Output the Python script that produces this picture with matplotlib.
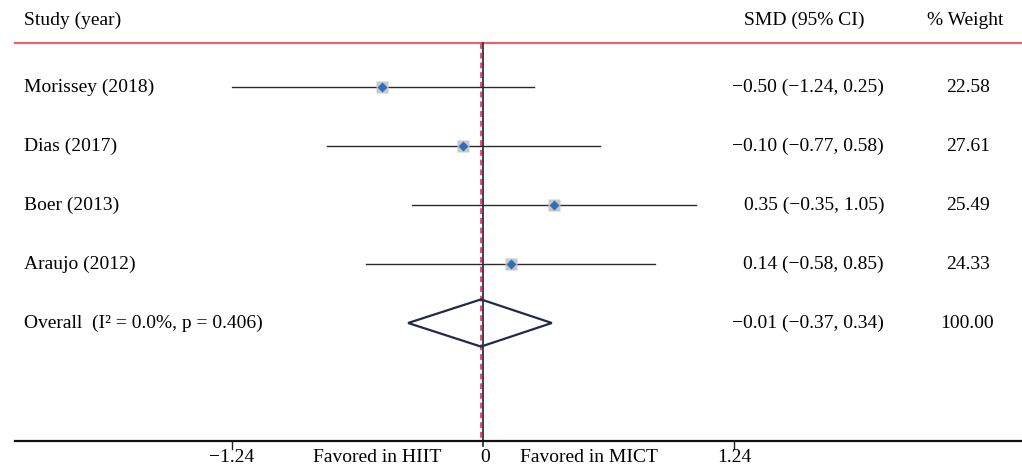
import matplotlib
matplotlib.use("Agg")
import matplotlib.pyplot as plt
from matplotlib.patches import Polygon

studies = ["Morissey (2018)", "Dias (2017)", "Boer (2013)", "Araujo (2012)"]
smd = [-0.50, -0.10, 0.35, 0.14]
lo = [-1.24, -0.77, -0.35, -0.58]
hi = [0.25, 0.58, 1.05, 0.85]
weights = ["22.58", "27.61", "25.49", "24.33"]
overall_label = "Overall  (I\u00b2 = 0.0%, p = 0.406)"
overall = [-0.01, -0.37, 0.34]
overall_weight = "100.00"
tick_vals = [-1.24, 0, 1.24]
tick_labels = ["\u22121.24", "0", "1.24"]
side_labels = ["Favored in HIIT", "Favored in MICT"]

def fmt(v):
    s = f"{v:.2f}"
    return s.replace("-", "\u2212")

plt.rcParams['font.family'] = ['Liberation Serif', 'DejaVu Serif']
W, H = 1022, 468
fig = plt.figure(figsize=(W / 100, H / 100), dpi=100)
ax = fig.add_axes([0, 0, 1, 1])
ax.set_axis_off()

pxu = 202.4
x0 = 483
ax.set_xlim(-x0 / pxu, (W - x0) / pxu)
row0, dy = 87, 59
ax.set_ylim((H - row0) / dy, -row0 / dy)

fs = 14
def px2x(p):
    return (p - x0) / pxu
def py2y(p):
    return (p - row0) / dy

y_head = py2y(20)
y_red = py2y(43)
y_axis = py2y(441)

# header
ax.text(px2x(24), y_head, "Study (year)", fontsize=fs, va="center", ha="left")
ax.text(px2x(804), y_head, "SMD (95% CI)", fontsize=fs, va="center", ha="center")
ax.text(px2x(965), y_head, "% Weight", fontsize=fs, va="center", ha="center")
ax.plot([px2x(15), px2x(1021)], [y_red, y_red], color="#e8636b", lw=1.6)

# vertical reference lines
ax.plot([0, 0], [y_red, py2y(446)], color="#333333", lw=1.3, zorder=2)
ax.plot([overall[0], overall[0]], [y_red, y_axis], color="#e8478a", lw=1.4,
        dashes=(3, 2), zorder=3)

for i, name in enumerate(studies):
    ax.text(px2x(24), i, name, fontsize=fs, va="center", ha="left")
    ax.plot([lo[i], hi[i]], [i, i], color="#2a2a2a", lw=1.0, zorder=4)
    ax.plot(smd[i], i, marker="s", ms=8.5, color="#c8c8c8", mec="none", zorder=5)
    ax.plot(smd[i], i, marker="D", ms=5.5, color="#2f6fba", mec="none", zorder=6)
    ax.text(px2x(884), i, f"{fmt(smd[i])} ({fmt(lo[i])}, {fmt(hi[i])})",
            fontsize=fs, va="center", ha="right")
    ax.text(px2x(968), i, weights[i], fontsize=fs, va="center", ha="center")

yo = len(studies)
ax.text(px2x(24), yo, overall_label, fontsize=fs, va="center", ha="left")
diamond = Polygon([[overall[1], yo], [overall[0], yo - 0.4], [overall[2], yo],
                   [overall[0], yo + 0.4]], closed=True, fill=False,
                  edgecolor="#1f2a4f", lw=1.6, zorder=6)
ax.add_patch(diamond)
ax.text(px2x(884), yo, f"{fmt(overall[0])} ({fmt(overall[1])}, {fmt(overall[2])})",
        fontsize=fs, va="center", ha="right")
ax.text(px2x(967), yo, overall_weight, fontsize=fs, va="center", ha="center")

# bottom axis
ax.plot([px2x(15), px2x(1021)], [y_axis, y_axis], color="#111111", lw=1.6)
for v, lab in zip(tick_vals, tick_labels):
    if v != 0:
        ax.plot([v, v], [y_axis, py2y(449)], color="#222222", lw=1.0)
    ax.text(v + (0.01 if v == 0 else 0), py2y(457), lab, fontsize=fs,
            va="center", ha="center")
ax.text(px2x(377), py2y(457), side_labels[0], fontsize=fs, va="center", ha="center")
ax.text(px2x(589), py2y(457), side_labels[1], fontsize=fs, va="center", ha="center")

fig.savefig("out.png", dpi=100, facecolor="white")
